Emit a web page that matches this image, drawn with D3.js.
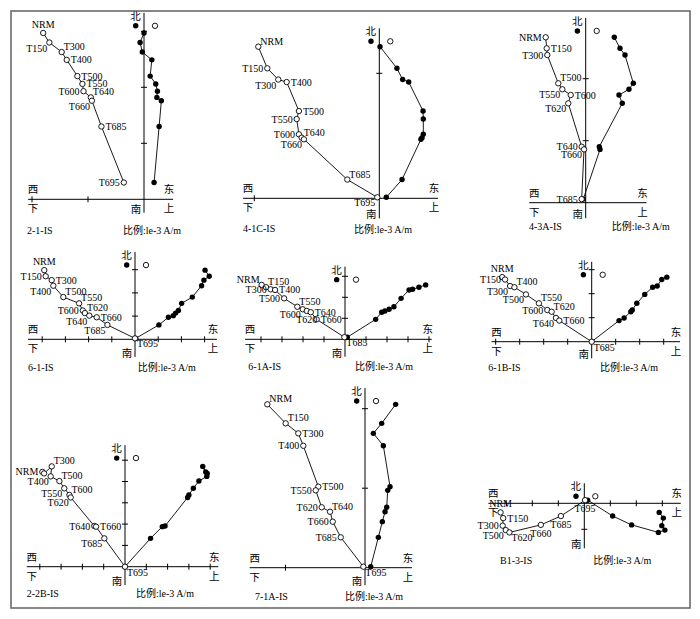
<!DOCTYPE html>
<html>
<head>
<meta charset="utf-8">
<script src="https://cdn.jsdelivr.net/npm/d3@7"></script>
<style>
body { margin: 0; background: #fff; }
svg text { font-family: "Liberation Serif", "Times New Roman", "Noto Sans CJK SC", serif; font-size: 10px; fill: #000; }
</style>
</head>
<body>
<svg id="chart" width="700" height="619"></svg>
<script>
// demagnetisation steps and components, in units of one axis tick
// north = N-S (vertical axis), east = horizontal projection (closed dots), up = vertical projection (open circles)
var steps_2_1 = ['NRM', 'T150', 'T300', 'T400', 'T500', 'T550', 'T600', 'T640', 'T660', 'T685', 'T695'];
var north_2_1 = [2.97, 2.80, 2.63, 2.49, 2.20, 2.06, 1.93, 1.82, 1.76, 1.30, 0.30];
var east_2_1  = [0, -0.07, -0.03, 0.14, 0.11, 0.21, 0.24, 0.23, 0.31, 0.27, 0.18];
var up_2_1    = [-1.80, -1.69, -1.47, -1.38, -1.19, -1.10, -1.08, -0.95, -0.93, -0.76, -0.36];

var steps_4_1c = ['NRM', 'T150', 'T300', 'T400', 'T500', 'T550', 'T600', 'T640', 'T660', 'T685', 'T695'];
var north_4_1c = [1.213, 1.040, 0.950, 0.930, 0.698, 0.634, 0.512, 0.485, 0.472, 0.150, 0.008];
var east_4_1c  = [0.006, 0.141, 0.187, 0.235, 0.350, 0.352, 0.352, 0.342, 0.333, 0.182, 0.056];
var up_4_1c    = [-0.968, -0.896, -0.808, -0.741, -0.643, -0.661, -0.643, -0.621, -0.603, -0.256, -0.016];

var steps_4_3a = ['NRM', 'T150', 'T300', 'T500', 'T550', 'T600', 'T620', 'T640', 'T660', 'T685'];
var north_4_3a = [2.668, 2.490, 2.382, 1.926, 1.829, 1.737, 1.603, 0.903, 0.860, 0.058];
var east_4_3a  = [0.461, 0.553, 0.634, 0.768, 0.698, 0.537, 0.590, 0.219, 0.231, -0.039];
var up_4_3a    = [-0.645, -0.629, -0.619, -0.442, -0.377, -0.242, -0.281, -0.065, -0.027, -0.065];

var steps_6_1 = ['NRM', 'T150', 'T300', 'T400', 'T500', 'T550', 'T600', 'T620', 'T640', 'T660', 'T685', 'T695'];
var north_6_1 = [2.98, 2.72, 2.55, 2.31, 1.82, 1.55, 1.24, 1.13, 1.02, 0.95, 0.62, 0.04];
var east_6_1  = [3.02, 3.20, 2.97, 2.87, 2.47, 2.01, 1.87, 1.75, 1.65, 1.44, 1.03, 0.03];
var up_6_1    = [-3.91, -3.85, -3.59, -3.52, -3.09, -2.41, -2.25, -2.16, -1.97, -1.65, -1.19, 0];

var steps_6_1a = ['NRM', 'T150', 'T300', 'T400', 'T500', 'T550', 'T600', 'T620', 'T640', 'T660', 'T685'];
var north_6_1a = [2.59, 2.48, 2.38, 2.35, 1.95, 1.55, 1.43, 1.35, 1.29, 0.95, 0.10];
var east_6_1a  = [3.84, 3.52, 3.22, 3.05, 2.67, 2.33, 2.10, 1.90, 1.75, 1.46, 0.11];
var up_6_1a    = [-3.97, -3.76, -3.54, -3.33, -2.90, -2.27, -2.01, -1.82, -1.63, -1.35, -0.03];

var steps_6_1b = ['NRM', 'T150', 'T300', 'T400', 'T500', 'T550', 'T600', 'T620', 'T640', 'T660', 'T685'];
var north_6_1b = [2.69, 2.59, 2.32, 2.27, 1.97, 1.60, 1.32, 1.25, 0.99, 0.88, 0];
var east_6_1b  = [3.13, 2.92, 2.73, 2.54, 2.21, 1.88, 1.69, 1.63, 1.35, 1.14, 0];
var up_6_1b    = [-3.73, -3.61, -3.40, -3.22, -2.74, -2.20, -1.85, -1.67, -1.49, -1.35, 0];

var steps_2_2b = ['NRM', '', 'T300', 'T400', 'T500', 'T550', 'T600', 'T620', 'T640', 'T660', 'T685', 'T695'];
var north_2_2b = [4.45, 4.38, 4.71, 4.24, 4.02, 3.68, 3.37, 3.25, 1.91, 1.88, 1.33, 0];
var east_2_2b  = [3.79, 3.86, 3.65, 3.84, 3.47, 3.21, 3.00, 2.94, 1.88, 1.75, 1.20, 0];
var up_2_2b    = [-3.88, -3.80, -3.44, -3.49, -3.08, -2.85, -2.61, -2.55, -1.44, -1.36, -0.97, 0];

var steps_7_1a = ['NRM', 'T150', 'T300', 'T400', 'T500', 'T550', 'T620', 'T640', 'T660', 'T685', 'T695'];
var north_7_1a = [2.055, 1.816, 1.690, 1.534, 1.019, 0.973, 0.760, 0.704, 0.579, 0.382, 0.013];
var east_7_1a  = [0.386, 0.210, 0.105, 0.231, 0.315, 0.286, 0.273, 0.252, 0.218, 0.168, 0.072];
var up_7_1a    = [-1.229, -0.998, -0.839, -0.776, -0.587, -0.620, -0.545, -0.440, -0.406, -0.305, -0.021];

var steps_b1_3 = ['NRM', 'T150', 'T300', 'T500', 'T620', 'T660', 'T685', 'T695'];
var north_b1_3 = [-0.35, -0.57, -0.86, -1.03, -1.12, -0.83, -0.49, 0.12];
var east_b1_3  = [2.88, 3.04, 2.98, 3.10, 2.85, 1.82, 1.09, 0.13];
var up_b1_3    = [-3.22, -3.12, -3.14, -3.02, -2.88, -1.67, -0.90, 0.03];

var panel_names = ['2-1-IS', '4-1C-IS', '4-3A-IS', '6-1-IS', '6-1A-IS', '6-1B-IS', '2-2B-IS', '7-1A-IS', 'B1-3-IS'];
var scale_text = '比例:le-3 A/m';

var panels = [
    {steps: steps_2_1, north: north_2_1, east: east_2_1, up: up_2_1},
    {steps: steps_4_1c, north: north_4_1c, east: east_4_1c, up: up_4_1c},
    {steps: steps_4_3a, north: north_4_3a, east: east_4_3a, up: up_4_3a},
    {steps: steps_6_1, north: north_6_1, east: east_6_1, up: up_6_1},
    {steps: steps_6_1a, north: north_6_1a, east: east_6_1a, up: up_6_1a},
    {steps: steps_6_1b, north: north_6_1b, east: east_6_1b, up: up_6_1b},
    {steps: steps_2_2b, north: north_2_2b, east: east_2_2b, up: up_2_2b},
    {steps: steps_7_1a, north: north_7_1a, east: east_7_1a, up: up_7_1a},
    {steps: steps_b1_3, north: north_b1_3, east: east_b1_3, up: up_b1_3}
];

// where each diagram sits: origin, px per tick, axis extent, label sides, caption spots
var layout = [
    {o: [144, 199.3], u: 56, xe: [-2.07, 0.52], ye: [-0.24, 3.33], lab: 't bl tr r r r l tr bl r l', nameAt: [27, 230], scaleAt: [123, 230]},
    {o: [379.3, 198.3], u: 125, xe: [-1.09, 0.47], ye: [-0.16, 1.36], lab: 'tr l bl r r l l tr bl tr bl', nameAt: [243, 228.3], scaleAt: [354, 229]},
    {o: [585.7, 202.7], u: 62, xe: [-0.91, 0.98], ye: [-0.25, 2.98], lab: 'l r l tr bl r bl l bl l', nameAt: [529, 226.7], scaleAt: [611.7, 226.7]},
    {o: [135, 339.3], u: 23.2, xe: [-4.61, 3.53], ye: [-0.76, 3.76], lab: 't l r bl tr tr l tr bl r bl br', nameAt: [28, 367.3], scaleAt: [137.7, 367.3]},
    {o: [345, 339.3], u: 21, xe: [-4.76, 4.13], ye: [-0.83, 3.46], lab: 'tl tr l r l tr bl b r r br', nameAt: [248.3, 366.7], scaleAt: [355, 366.7]},
    {o: [591.7, 341.7], u: 24, xe: [-4.17, 3.68], ye: [-0.69, 3.33], lab: 't l bl tr bl tr l tr bl r br', nameAt: [488.3, 367.7], scaleAt: [600, 367.7]},
    {o: [125, 566.7], u: 21.3, xe: [-4.61, 4.38], ye: [-0.86, 5.71], lab: 'l - tr bl tr bl tr bl l r bl br', nameAt: [26.7, 593.3], scaleAt: [136, 593.3]},
    {o: [365, 567.7], u: 79.5, xe: [-1.45, 0.59], ye: [-0.22, 2.26], lab: 'tr tr r l r l l tr l l br', nameAt: [255, 596.7], scaleAt: [345, 596.7]},
    {o: [584.3, 503.3], u: 26, xe: [-3.69, 3.71], ye: [-1.73, 0.77], lab: 't r l bl br b b b', nameAt: [500, 560.7], scaleAt: [593.3, 560.7]}
];

var label_pos = {
    r:  [4, 3.5, 'start'],
    l:  [-4, 3.5, 'end'],
    tr: [2, -2, 'start'],
    tl: [-2, -2, 'end'],
    br: [2, 9, 'start'],
    bl: [-2, 9, 'end'],
    t:  [0, -5, 'middle'],
    b:  [0, 12, 'middle']
};

var svg = d3.select('#chart');

svg.append('rect')
    .attr('x', 11).attr('y', 11)
    .attr('width', 679).attr('height', 597)
    .attr('fill', 'none')
    .attr('stroke', '#6a6a6a')
    .attr('stroke-width', 1.6);

function draw_panel(p, lay, name) {
    var ox = lay.o[0], oy = lay.o[1], u = lay.u;
    var xs = d3.scaleLinear().domain(lay.xe).range([ox + lay.xe[0] * u, ox + lay.xe[1] * u]);
    var ys = d3.scaleLinear().domain(lay.ye).range([oy - lay.ye[0] * u, oy - lay.ye[1] * u]);
    var g = svg.append('g');

    var x0 = xs(lay.xe[0]), x1 = xs(lay.xe[1]);
    var yTop = ys(lay.ye[1]), yBot = ys(lay.ye[0]);

    // axes
    g.append('line').attr('x1', x0).attr('x2', x1).attr('y1', ys(0)).attr('y2', ys(0))
        .attr('stroke', '#000').attr('stroke-width', 1);
    g.append('line').attr('x1', xs(0)).attr('x2', xs(0)).attr('y1', yTop).attr('y2', yBot)
        .attr('stroke', '#000').attr('stroke-width', 1);

    var xt = d3.range(Math.ceil(lay.xe[0]), Math.floor(lay.xe[1]) + 1).filter(k => k !== 0);
    var yt = d3.range(Math.ceil(lay.ye[0]), Math.floor(lay.ye[1]) + 1).filter(k => k !== 0);
    g.selectAll('.xt').data(xt).enter().append('line')
        .attr('x1', d => xs(d)).attr('x2', d => xs(d))
        .attr('y1', ys(0) - 3).attr('y2', ys(0) + 3)
        .attr('stroke', '#000').attr('stroke-width', 1);
    g.selectAll('.yt').data(yt).enter().append('line')
        .attr('x1', xs(0) - 3).attr('x2', xs(0) + 3)
        .attr('y1', d => ys(d)).attr('y2', d => ys(d))
        .attr('stroke', '#000').attr('stroke-width', 1);

    // direction words
    var words = [
        ['北', xs(0) - 8.5, yTop + 7],
        ['南', xs(0) - 8, yBot],
        ['西', x0 + 5, ys(0) - 6],
        ['下', x0 + 5, ys(0) + 13],
        ['东', x1 - 4, ys(0) - 6],
        ['上', x1 - 4, ys(0) + 13]
    ];
    g.selectAll('.dir').data(words).enter().append('text')
        .attr('x', d => d[1]).attr('y', d => d[2])
        .attr('text-anchor', 'middle')
        .style('font-size', '10.5px')
        .text(d => d[0]);

    // legend symbols beside 北
    g.append('circle').attr('cx', xs(0) - 8.3).attr('cy', yTop + 13).attr('r', 2.7).attr('fill', '#000');
    g.append('circle').attr('cx', xs(0) + 11).attr('cy', yTop + 13).attr('r', 2.7)
        .attr('fill', '#fff').attr('stroke', '#000').attr('stroke-width', 0.9);

    var idx = d3.range(p.steps.length);
    var line_h = d3.line().x(i => xs(p.east[i])).y(i => ys(p.north[i]));
    var line_v = d3.line().x(i => xs(p.up[i])).y(i => ys(p.north[i]));

    g.append('path').datum(idx).attr('d', line_h)
        .attr('fill', 'none').attr('stroke', '#000').attr('stroke-width', 0.9);
    g.append('path').datum(idx).attr('d', line_v)
        .attr('fill', 'none').attr('stroke', '#000').attr('stroke-width', 0.9);

    g.selectAll('.hp').data(idx).enter().append('circle')
        .attr('cx', i => xs(p.east[i])).attr('cy', i => ys(p.north[i]))
        .attr('r', 2.7).attr('fill', '#000');
    g.selectAll('.vp').data(idx).enter().append('circle')
        .attr('cx', i => xs(p.up[i])).attr('cy', i => ys(p.north[i]))
        .attr('r', 2.7).attr('fill', '#fff').attr('stroke', '#000').attr('stroke-width', 0.9);

    // step labels next to the open circles
    var sides = lay.lab.split(' ');
    g.selectAll('.lb').data(idx.filter(i => p.steps[i] !== '')).enter().append('text')
        .attr('x', i => xs(p.up[i]) + label_pos[sides[i]][0])
        .attr('y', i => ys(p.north[i]) + label_pos[sides[i]][1])
        .attr('text-anchor', i => label_pos[sides[i]][2])
        .text(i => p.steps[i]);

    g.append('text')
        .attr('x', lay.nameAt[0]).attr('y', lay.nameAt[1] + 3.5)
        .text(name);
    g.append('text')
        .attr('x', lay.scaleAt[0]).attr('y', lay.scaleAt[1] + 3.5)
        .text(scale_text);
}

for (var i = 0; i < panels.length; i++) {
    draw_panel(panels[i], layout[i], panel_names[i]);
}
</script>
</body>
</html>
